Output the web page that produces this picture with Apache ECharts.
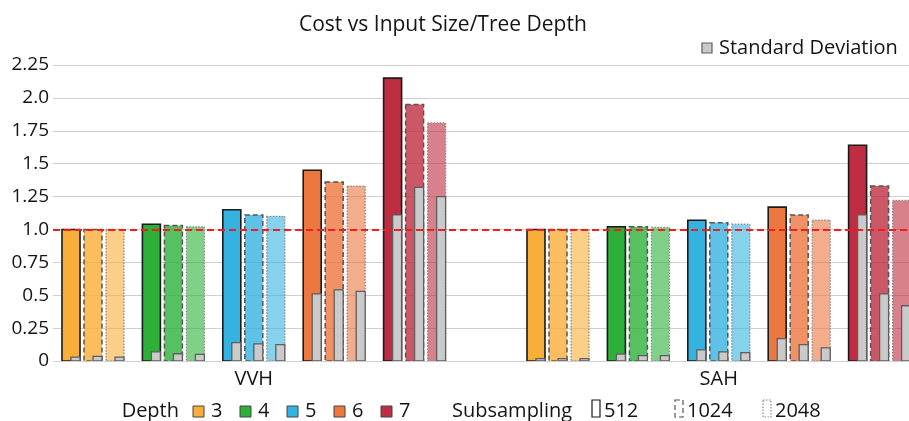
<!DOCTYPE html>
<html>
<head>
<meta charset="utf-8">
<script src="https://cdn.jsdelivr.net/npm/echarts@6/dist/echarts.min.js"></script>
<style>
  html, body { margin: 0; padding: 0; background: #ffffff; }
  #chart { width: 909px; height: 421px; }
</style>
</head>
<body>
<div id="chart"></div>
<script>
// Categories
const methods = ['VVH', 'SAH'];
const depths = ['3', '4', '5', '6', '7'];
const subsampling = ['512', '1024', '2048'];
const yTickLabels = ['0', '0.25', '0.5', '0.75', '1.0', '1.25', '1.5', '1.75', '2.0', '2.25'];

// Relative cost per depth (3..7), one array per method and subsampling size
const vvhCost512  = [1.00, 1.04, 1.15, 1.45, 2.15];
const vvhCost1024 = [1.00, 1.03, 1.11, 1.36, 1.95];
const vvhCost2048 = [1.00, 1.02, 1.10, 1.33, 1.81];
const sahCost512  = [1.00, 1.02, 1.07, 1.17, 1.64];
const sahCost1024 = [1.00, 1.02, 1.05, 1.11, 1.33];
const sahCost2048 = [1.00, 1.015, 1.04, 1.07, 1.22];

// Standard deviation of the cost
const vvhStd512  = [0.03, 0.07, 0.14, 0.51, 1.11];
const vvhStd1024 = [0.035, 0.055, 0.13, 0.54, 1.32];
const vvhStd2048 = [0.03, 0.05, 0.125, 0.53, 1.25];
const sahStd512  = [0.018, 0.053, 0.085, 0.17, 1.11];
const sahStd1024 = [0.018, 0.041, 0.07, 0.125, 0.51];
const sahStd2048 = [0.018, 0.041, 0.064, 0.10, 0.42];

const depthColors = ['#F9AE3A', '#2DB038', '#35B3E0', '#EC773F', '#BE2D41'];
const subAlpha = [1, 0.8, 0.6];
const subBorder = [
  { stroke: '#1a1a1a', lineWidth: 1.6, lineDash: null },
  { stroke: '#555555', lineWidth: 1.5, lineDash: [5, 3] },
  { stroke: '#8a8a8a', lineWidth: 1.3, lineDash: [1.5, 1.5] }
];
const STD_FILL = '#cacaca';
const STD_STROKE = '#5e5e5e';
const TEXT = '#141414';
const FONT = '"Open Sans", "Noto Sans", sans-serif';

// Horizontal layout in axis units (one unit per pixel of the plot width)
const X_SPAN = 856;
const FIRST_BAR = [18, 483];
const CLUSTER_STEP = 80.4;
const BAR_STEP = 22;
const BAR_WIDTH = 18;

const costTable = [
  [vvhCost512, vvhCost1024, vvhCost2048],
  [sahCost512, sahCost1024, sahCost2048]
];
const stdTable = [
  [vvhStd512, vvhStd1024, vvhStd2048],
  [sahStd512, sahStd1024, sahStd2048]
];

const barData = [];
methods.forEach((m, mi) => {
  depths.forEach((d, di) => {
    subsampling.forEach((s, si) => {
      const x = FIRST_BAR[mi] + di * CLUSTER_STEP + si * BAR_STEP;
      barData.push([x, costTable[mi][si][di], stdTable[mi][si][di], di, si]);
    });
  });
});

const groupCenters = methods.map((m, mi) => FIRST_BAR[mi] + 2 * CLUSTER_STEP + BAR_STEP);

function withAlpha(hex, a) {
  const n = parseInt(hex.slice(1), 16);
  return 'rgba(' + ((n >> 16) & 255) + ',' + ((n >> 8) & 255) + ',' + (n & 255) + ',' + a + ')';
}

function renderBar(params, api) {
  const x = api.value(0);
  const cost = api.value(1);
  const std = api.value(2);
  const di = api.value(3);
  const si = api.value(4);
  const base = api.coord([x, 0]);
  const top = api.coord([x, cost]);
  const stdTop = api.coord([x, std]);
  const w = api.size([BAR_WIDTH, 0])[0];
  const left = base[0] - w / 2;
  const border = subBorder[si];
  return {
    type: 'group',
    children: [
      {
        type: 'rect',
        shape: { x: left, y: top[1], width: w, height: base[1] - top[1] },
        style: {
          fill: withAlpha(depthColors[di], subAlpha[si]),
          stroke: border.stroke,
          lineWidth: border.lineWidth,
          lineDash: border.lineDash
        }
      },
      {
        type: 'rect',
        shape: { x: base[0], y: stdTop[1], width: w / 2, height: base[1] - stdTop[1] },
        style: { fill: STD_FILL, stroke: STD_STROKE, lineWidth: 1.3 }
      }
    ]
  };
}

// Legends: standard deviation (top right), depth and subsampling (bottom)
const LEGEND_FONT = '20px ' + FONT;
const legendY = 411;
const graphics = [];
graphics.push({ type: 'rect', x: 702, y: 43, shape: { width: 10, height: 10 },
  style: { fill: STD_FILL, stroke: STD_STROKE, lineWidth: 1.2 } });
graphics.push({ type: 'text', x: 719, y: 48,
  style: { text: 'Standard Deviation', fill: TEXT, font: LEGEND_FONT, verticalAlign: 'middle' } });

graphics.push({ type: 'text', x: 179, y: legendY,
  style: { text: 'Depth', fill: TEXT, font: LEGEND_FONT, align: 'right', verticalAlign: 'middle' } });
depths.forEach((d, i) => {
  graphics.push({ type: 'rect', x: 193 + i * 47, y: 406, shape: { width: 11, height: 11 },
    style: { fill: depthColors[i], stroke: '#444', lineWidth: 1 } });
  graphics.push({ type: 'text', x: 211 + i * 47, y: legendY,
    style: { text: d, fill: TEXT, font: LEGEND_FONT, verticalAlign: 'middle' } });
});
graphics.push({ type: 'text', x: 452, y: legendY,
  style: { text: 'Subsampling', fill: TEXT, font: LEGEND_FONT, verticalAlign: 'middle' } });
const subLegendX = [592, 675, 763];
subsampling.forEach((s, i) => {
  graphics.push({ type: 'rect', x: subLegendX[i], y: 400, shape: { width: 8, height: 17 },
    style: { fill: '#ffffff', stroke: subBorder[i].stroke, lineWidth: 1.2, lineDash: subBorder[i].lineDash } });
  graphics.push({ type: 'text', x: subLegendX[i] + 12, y: legendY,
    style: { text: s, fill: TEXT, font: LEGEND_FONT, verticalAlign: 'middle' } });
});

const chart = echarts.init(document.getElementById('chart'), null, { renderer: 'canvas' });
chart.setOption({
  animation: false,
  backgroundColor: '#ffffff',
  title: {
    text: 'Cost vs Input Size/Tree Depth',
    left: 294,
    top: 10,
    textStyle: { fontFamily: FONT, fontSize: 21, fontWeight: 'normal', color: TEXT }
  },
  grid: { left: 53, right: 0, top: 65, bottom: 60, containLabel: false },
  xAxis: {
    type: 'value',
    min: 0,
    max: X_SPAN,
    axisLine: { show: false },
    axisTick: { show: false },
    splitLine: { show: false },
    axisLabel: {
      customValues: groupCenters,
      formatter: (v) => {
        let best = 0;
        groupCenters.forEach((c, i) => { if (Math.abs(c - v) < Math.abs(groupCenters[best] - v)) best = i; });
        return methods[best];
      },
      fontFamily: FONT, fontSize: 20, color: TEXT, margin: 8
    }
  },
  yAxis: {
    type: 'value',
    min: 0,
    max: 2.25,
    interval: 0.25,
    axisLine: { show: false },
    axisTick: { show: false },
    splitLine: { lineStyle: { color: '#cfcfcf', width: 1 } },
    axisLabel: {
      formatter: (v) => yTickLabels[Math.round(v / 0.25)],
      fontFamily: FONT, fontSize: 19, color: TEXT, margin: 4
    }
  },
  series: [
    {
      type: 'custom',
      renderItem: renderBar,
      data: barData,
      encode: { x: 0, y: 1 },
      clip: true,
      markLine: {
        silent: true,
        symbol: 'none',
        label: { show: false },
        lineStyle: { color: '#F01E1E', type: [7, 4], width: 2 },
        data: [{ yAxis: 1 }],
        z: 10
      }
    }
  ],
  graphic: graphics
});
</script>
</body>
</html>
